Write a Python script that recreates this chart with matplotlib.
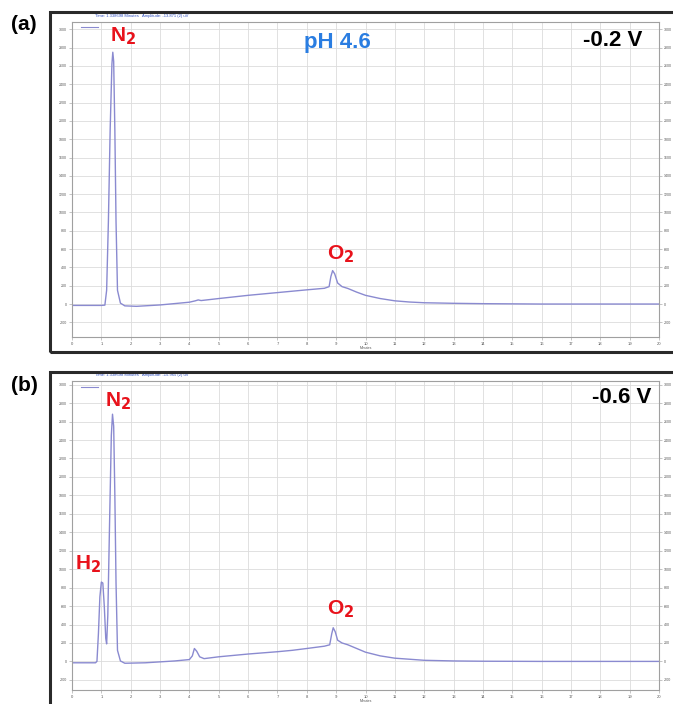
import matplotlib
matplotlib.use("Agg")
import matplotlib.pyplot as plt
from matplotlib.patches import Rectangle

# ---- data (time in min, signal in mV) ----
time_a = [0.0, 1.0, 1.12, 1.18, 1.24, 1.30, 1.36, 1.39, 1.42, 1.46, 1.50, 1.55, 1.65, 1.8,
          2.2, 3.0, 3.5, 4.0, 4.2, 4.3, 4.4, 5.0, 6.0, 7.0, 8.0, 8.6, 8.76, 8.82, 8.88,
          8.95, 9.05, 9.2, 9.4, 9.7, 10.0, 10.5, 11.0, 11.5, 12.0, 13.0, 14.0, 15.0,
          16.0, 20.0]
signal_a = [-15, -15, -12, 150, 900, 1900, 2620, 2750, 2650, 1900, 900, 150, 10, -20,
            -25, -10, 5, 20, 35, 45, 38, 60, 95, 125, 155, 172, 190, 300, 365,
            330, 230, 190, 170, 130, 95, 60, 35, 22, 14, 8, 4, 2,
            0, 0]

time_b = [0.0, 0.8, 0.85, 0.9, 0.95, 1.0, 1.05, 1.1, 1.15, 1.18, 1.22, 1.28, 1.34,
          1.38, 1.42, 1.46, 1.50, 1.55, 1.65, 1.8, 2.5, 3.0, 3.5, 4.0, 4.1, 4.17,
          4.25, 4.35, 4.5, 5.0, 6.0, 7.0, 7.5, 8.0, 8.6, 8.78, 8.85, 8.9, 8.97, 9.05,
          9.2, 9.4, 9.7, 10.0, 10.5, 11.0, 12.0, 13.0, 14.0, 16.0, 20.0]
signal_b = [-15, -15, 0, 300, 700, 860, 850, 600, 250, 190, 500, 1500, 2450,
            2680, 2550, 1800, 850, 120, 5, -20, -15, -5, 5, 20, 60, 140,
            110, 50, 30, 50, 80, 105, 120, 140, 165, 180, 300, 365, 320, 230,
            200, 180, 140, 100, 60, 35, 12, 5, 2, 0, 0]

x_ticks = list(range(0, 21))
y_ticks = list(range(-200, 3001, 200))

W, H = 673, 704
fig = plt.figure(figsize=(W / 100, H / 100), dpi=100)
plt.rcParams['font.family'] = ['Liberation Sans', 'DejaVu Sans']

def fx(px):
    return px / W

def fy(py):
    return 1 - py / H

line_color = '#8a8ad0'
red = '#e8121b'

def make_panel(left, top, right, bottom, ylim, t, s, title):
    ax = fig.add_axes([fx(left), fy(bottom), fx(right - left), (bottom - top) / H])
    ax.plot(t, s, color=line_color, lw=1.0)
    ax.set_xlim(0, 20)
    ax.set_ylim(*ylim)
    ax.set_xticks(x_ticks)
    ax.set_yticks(y_ticks)
    ax.set_xticklabels([str(v) for v in x_ticks], fontsize=3, color='#555555')
    ax.set_yticklabels([str(v) for v in y_ticks], fontsize=2.6, color='#555555')
    ax.tick_params(axis='both', length=2, width=0.4, color='#999999', pad=1.5,
                   right=True, labelright=True)
    ax.grid(True, color='#dcdcdc', lw=0.6)
    ax.set_axisbelow(True)
    for sp in ax.spines.values():
        sp.set_color('#a0a0a0')
        sp.set_linewidth(0.8)
    ax.set_xlabel('Minutes', fontsize=2.5, color='#555555', labelpad=0)
    ax.set_ylabel('mV', fontsize=3, color='#555555', labelpad=4)
    ax.text(0.04, 1.012, title, transform=ax.transAxes, fontsize=3, color='#3050c0',
            ha='left', va='bottom')
    ax.plot([0.3, 0.9], [ylim[1] - 60, ylim[1] - 60], color=line_color, lw=0.8)
    return ax

# frames (screenshot borders)
fig.add_artist(Rectangle((fx(50), fy(352)), fx(640), (352 - 12) / H, fill=False,
                         edgecolor='#2a2a2a', lw=2.2, transform=fig.transFigure,
                         clip_on=False))
fig.add_artist(Rectangle((fx(50), fy(720)), fx(640), (720 - 372) / H, fill=False,
                         edgecolor='#2a2a2a', lw=2.2, transform=fig.transFigure,
                         clip_on=False))

ax_a = make_panel(72, 22, 659, 337, (-360, 3080), time_a, signal_a,
                  'Time: 1.338698 Minutes   Amplitude: -13.871 (2) uV')
ax_b = make_panel(72, 381, 659, 690, (-310, 3040), time_b, signal_b,
                  'Time: 1.338698 Minutes   Amplitude: -15.965 (2) uV')

bold = dict(fontweight='bold')
# panel a annotations
ax_a.text(1.30, 2863, r'N$_\mathbf{2}$', color=red, fontsize=15, ha='left', va='baseline', **bold)
ax_a.text(8.70, 492, r'O$_\mathbf{2}$', color=red, fontsize=15, ha='left', va='baseline', **bold)
ax_a.text(9.04, 2798, 'pH 4.6', color='#2a7de1', fontsize=16, ha='center', va='baseline', **bold)
ax_a.text(19.42, 2820, '-0.2 V', color='black', fontsize=16, ha='right', va='baseline', **bold)

# panel b annotations
ax_b.text(1.13, 2768, r'N$_\mathbf{2}$', color=red, fontsize=15, ha='left', va='baseline', **bold)
ax_b.text(0.10, 995, r'H$_\mathbf{2}$', color=red, fontsize=15, ha='left', va='baseline', **bold)
ax_b.text(8.70, 508, r'O$_\mathbf{2}$', color=red, fontsize=15, ha='left', va='baseline', **bold)
ax_b.text(19.73, 2800, '-0.6 V', color='black', fontsize=16, ha='right', va='baseline', **bold)

# panel labels
fig.text(fx(11), fy(30), '(a)', fontsize=15, fontweight='bold', ha='left', va='baseline')
fig.text(fx(11), fy(391), '(b)', fontsize=15, fontweight='bold', ha='left', va='baseline')

fig.savefig('out.png', dpi=100)
